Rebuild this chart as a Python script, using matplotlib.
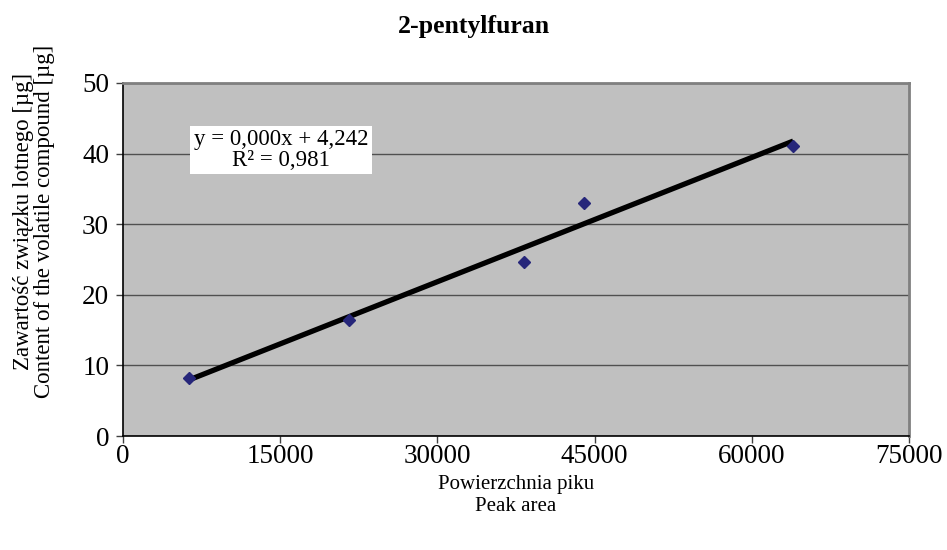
import numpy as np
import matplotlib
matplotlib.use("Agg")
import matplotlib.pyplot as plt

plt.rcParams['font.family'] = ['Liberation Serif', 'DejaVu Serif']

title = "2-pentylfuran"
peak_area = [6300, 21600, 38250, 44000, 63950]
content = [8.2, 16.4, 24.7, 33.0, 41.1]
x_ticks = [0, 15000, 30000, 45000, 60000, 75000]
y_ticks = [0, 10, 20, 30, 40, 50]
equation_text = "y = 0,000x + 4,242\nR² = 0,981"
xlabel = "Powierzchnia piku\nPeak area"
ylabel = "Zawartość związku lotnego [µg]\nContent of the volatile compound [µg]"

fig = plt.figure(figsize=(9.47, 5.5), dpi=100)
ax = fig.add_axes([123/947, 1-436/550, (909-123)/947, (436-83)/550])
ax.set_facecolor('#C0C0C0')

ax.set_xlim(0, 75000)
ax.set_ylim(0, 50)
ax.set_xticks(x_ticks)
ax.set_yticks(y_ticks)
ax.set_xticklabels([str(v) for v in x_ticks])
ax.set_yticklabels([str(v) for v in y_ticks])
ax.tick_params(axis='both', labelsize=19.5, direction='out', length=5, width=1, color='#404040')
ax.tick_params(axis='x', pad=1)
ax.tick_params(axis='y', pad=5)

ax.yaxis.grid(True, color='#505050', linewidth=1)
ax.set_axisbelow(True)

for s in ['top', 'right']:
    ax.spines[s].set_color('#808080')
    ax.spines[s].set_linewidth(2)
for s in ['left', 'bottom']:
    ax.spines[s].set_color('black')
    ax.spines[s].set_linewidth(1.2)

# trend line
coef = np.polyfit(peak_area, content, 1)
xs = np.array([min(peak_area), max(peak_area)])
ax.plot(xs, np.polyval(coef, xs), color='black', linewidth=3.8, zorder=3, solid_capstyle='butt')

ax.plot(peak_area, content, linestyle='none', marker='D', markersize=6.5,
        color='#26267A', zorder=4)

ax.text(0.201, 0.81, equation_text, transform=ax.transAxes, ha='center', va='center',
        fontsize=16.5, linespacing=0.95,
        bbox=dict(boxstyle='square,pad=0.15', facecolor='white', edgecolor='none'), zorder=5)

ax.set_xlabel(xlabel, fontsize=15, labelpad=4, linespacing=1.2)
ax.set_ylabel(ylabel, fontsize=16.5, linespacing=1.0, va='center')
ax.yaxis.set_label_coords(-0.1135, 0.607)

fig.text(0.5, 1-27/550, title, ha='center', va='center', fontsize=18.5, fontweight='bold')

fig.savefig('out.png', dpi=100)
